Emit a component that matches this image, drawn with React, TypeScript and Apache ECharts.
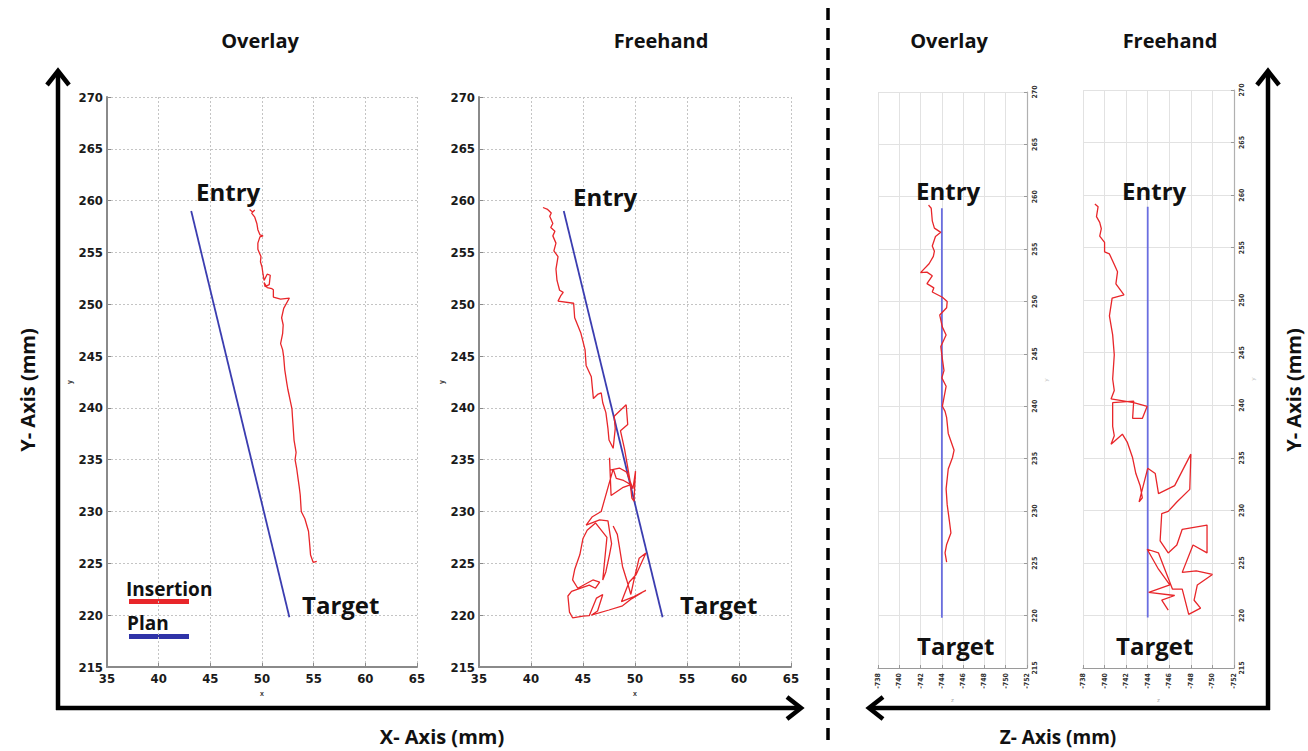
import React, { useEffect, useRef } from "react";
import * as echarts from "echarts";

// ---------- DATA ----------
const panelTitles = ["Overlay", "Freehand", "Overlay", "Freehand"];
const xyTicksX = [35, 40, 45, 50, 55, 60, 65];
const yTicks = [215, 220, 225, 230, 235, 240, 245, 250, 255, 260, 265, 270];
const zTicks = [-738, -740, -742, -744, -746, -748, -750, -752];

// plan trajectory (entry -> target)
const planXY: number[][] = [[43.15, 259.0], [52.65, 219.8]];
const planZY: number[][] = [[-744.0, 258.9], [-744.0, 219.8]];

// insertion trajectories
const overlayXY: number[][] = [
  [48.8, 259.15], [49.1, 258.9], [49.3, 259.1], [49.0, 258.8], [49.3, 258.4], [49.5, 257.8],
  [49.6, 257.2], [49.8, 256.7], [50.1, 256.6], [49.8, 256.5], [49.6, 255.9], [49.6, 255.3],
  [49.9, 254.6], [49.85, 254.1], [50.0, 253.6], [50.1, 252.9], [50.2, 252.3], [50.5, 252.9],
  [50.8, 252.8], [50.7, 251.9], [50.3, 251.7], [50.2, 252.1], [50.5, 251.6], [50.96, 251.5],
  [51.1, 251.4], [51.1, 250.7], [51.8, 250.5], [52.65, 250.6], [52.1, 249.6], [51.9, 248.7],
  [52.05, 248.0], [52.0, 247.2], [51.8, 246.2], [52.0, 245.6], [52.1, 244.9], [52.2, 243.7],
  [52.4, 242.4], [52.5, 241.8], [52.65, 241.1], [52.9, 239.9], [52.95, 239.1], [53.0, 238.4],
  [53.1, 236.9], [53.3, 235.7], [53.2, 235.0], [53.35, 234.2], [53.5, 233.1], [53.6, 232.4],
  [53.7, 231.6], [53.8, 230.0], [54.15, 229.3], [54.5, 228.1], [54.6, 227.0], [54.7, 225.8],
  [54.95, 225.1], [55.3, 225.2]
];

const freehandXY: number[][] = [
  [41.15, 259.34], [41.6, 259.15], [41.95, 258.8], [41.8, 258.5], [42.1, 257.8], [41.9, 257.4],
  [42.3, 257.05], [42.1, 256.6], [42.4, 255.9], [42.2, 255.15], [42.6, 254.6], [42.4, 253.4],
  [42.5, 252.3], [42.75, 251.35], [43.1, 251.15], [42.85, 250.8], [42.6, 250.3], [44.1, 250.1],
  [44.2, 248.7], [44.8, 247.2], [45.2, 245.6], [45.3, 244.1], [45.8, 243.0], [46.0, 240.9],
  [46.4, 241.3], [46.75, 241.45], [46.9, 240.5], [47.2, 239.55], [47.4, 238.0], [47.5, 236.9],
  [47.9, 236.1], [48.1, 238.0], [48.0, 239.2], [49.15, 240.3], [49.3, 238.4], [48.6, 237.8],
  [49.0, 236.0], [49.5, 233.1], [49.7, 231.3], [49.9, 231.0], [50.05, 233.9], [49.8, 232.2],
  [49.2, 233.8], [48.5, 234.2], [47.6, 234.0], [47.55, 235.2], [47.7, 231.55], [48.8, 232.3],
  [49.6, 232.6], [48.9, 233.0], [48.2, 233.2], [47.9, 234.1], [46.75, 230.0], [45.9, 229.5],
  [45.3, 228.7], [46.6, 229.2], [47.4, 229.1], [47.6, 227.8], [47.75, 226.9], [47.55, 225.85],
  [47.2, 224.2], [46.9, 223.4], [47.3, 227.5], [46.2, 228.9], [45.4, 228.2], [45.0, 227.4],
  [44.7, 225.85], [44.2, 224.4], [44.0, 223.4], [44.5, 222.6], [45.95, 223.4], [46.6, 223.2],
  [46.2, 222.6], [45.6, 222.9], [43.9, 222.3], [43.55, 221.85], [43.7, 220.3], [44.0, 219.75],
  [45.0, 219.9], [45.6, 219.95], [46.3, 221.65], [46.9, 222.0], [46.4, 220.4], [45.8, 220.0],
  [47.5, 220.5], [48.8, 220.9], [49.7, 221.6], [51.05, 222.4], [49.9, 221.8], [48.7, 221.3],
  [49.2, 222.6], [49.45, 223.2], [50.1, 223.9], [51.05, 226.0], [50.4, 225.5], [49.9, 223.4],
  [49.6, 222.0], [49.2, 223.4], [48.8, 224.7], [48.5, 226.6], [48.3, 227.8], [47.9, 228.6]
];

const overlayZY: number[][] = [
  [-742.87, 259.06], [-742.75, 259.2], [-743.0, 258.9], [-743.05, 258.3], [-743.1, 257.7],
  [-743.3, 257.0], [-743.9, 256.6], [-743.4, 256.2], [-743.1, 255.3], [-743.3, 254.8],
  [-743.2, 254.3], [-742.8, 253.6], [-742.0, 252.75], [-742.6, 252.8], [-743.1, 252.45],
  [-742.6, 251.7], [-743.25, 251.3], [-743.1, 250.9], [-744.05, 250.4], [-744.5, 250.0],
  [-744.45, 249.4], [-743.8, 248.7], [-744.05, 247.55], [-744.4, 246.8], [-743.9, 245.7],
  [-744.05, 244.5], [-744.2, 243.4], [-744.0, 242.7], [-744.4, 241.9], [-744.05, 240.0],
  [-744.3, 239.5], [-744.45, 238.9], [-744.6, 237.4], [-745.15, 235.8], [-745.0, 235.1],
  [-744.6, 234.0], [-744.4, 232.1], [-744.5, 230.6], [-744.7, 229.1], [-744.85, 227.9],
  [-744.45, 226.8], [-744.3, 226.0], [-744.45, 225.1]
];

const freehandZY: number[][] = [
  [-739.1, 259.16], [-739.4, 258.9], [-739.25, 257.95], [-739.55, 257.4], [-739.7, 256.8],
  [-739.55, 256.1], [-740.0, 255.5], [-740.0, 254.6], [-740.45, 254.4], [-740.9, 253.4],
  [-741.2, 252.7], [-741.05, 251.55], [-741.8, 250.5], [-740.7, 250.2], [-740.45, 248.5],
  [-740.75, 246.7], [-740.9, 244.8], [-740.75, 242.5], [-740.9, 241.4], [-740.6, 240.6],
  [-742.7, 240.25], [-743.95, 239.9], [-743.5, 238.75], [-742.6, 238.75], [-742.7, 240.4],
  [-740.75, 240.25], [-740.75, 238.0], [-740.9, 237.1], [-740.6, 236.3], [-741.65, 237.25],
  [-742.1, 236.5], [-742.6, 235.0], [-742.9, 233.5], [-743.3, 232.35], [-743.5, 231.2],
  [-743.2, 230.8], [-744.0, 234.0], [-744.7, 233.5], [-745.0, 231.6], [-746.5, 232.35],
  [-748.0, 235.35], [-747.9, 232.0], [-746.7, 230.8], [-745.9, 229.9], [-745.3, 229.7],
  [-745.15, 227.1], [-745.9, 225.95], [-746.7, 226.7], [-747.2, 228.2], [-749.5, 228.6],
  [-749.5, 225.95], [-748.2, 226.7], [-747.2, 224.1], [-748.5, 224.25], [-750.0, 223.9],
  [-748.6, 222.9], [-748.3, 221.45], [-748.9, 220.7], [-747.8, 220.1], [-747.2, 222.5],
  [-746.3, 222.5], [-745.0, 225.95], [-743.95, 226.3], [-745.0, 224.4], [-746.05, 222.9],
  [-744.1, 222.2], [-746.5, 221.9], [-745.3, 221.45], [-745.9, 220.5]
];

// ---------- LAYOUT ----------
const grids = [
  { left: 107, top: 97, width: 310, height: 570 },
  { left: 479, top: 97, width: 312, height: 570 },
  { left: 878, top: 92, width: 149, height: 576 },
  { left: 1083, top: 90, width: 151, height: 578 }
];

const boldFont = "'Open Sans', 'Noto Sans', sans-serif";

function txt(text: string, x: number, y: number, size: number, opts: any = {}) {
  return {
    type: "text",
    x,
    y,
    rotation: opts.rotation || 0,
    z: 10,
    style: {
      text,
      x: 0,
      y: 0,
      fill: opts.fill || "#111",
      font: `bold ${size}px ${boldFont}`,
      align: opts.align || "left",
      textAlign: opts.align || "left",
      verticalAlign: "middle",
      textVerticalAlign: "middle"
    }
  };
}

function arrowHead(tx: number, ty: number, dir: "up" | "right" | "left") {
  let pts: number[][];
  if (dir === "up") pts = [[tx - 11, ty + 14], [tx, ty], [tx + 11, ty + 14]];
  else if (dir === "right") pts = [[tx - 14, ty - 11], [tx, ty], [tx - 14, ty + 11]];
  else pts = [[tx + 14, ty - 11], [tx, ty], [tx + 14, ty + 11]];
  return { type: "polyline", shape: { points: pts }, style: { stroke: "#000", lineWidth: 4.5, fill: "none", lineJoin: "miter" } };
}

function lineEl(x1: number, y1: number, x2: number, y2: number, w: number, dash?: number[]) {
  return {
    type: "line",
    shape: { x1, y1, x2, y2 },
    style: { stroke: "#000", lineWidth: w, lineDash: dash || null }
  };
}

export default function App() {
  const ref = useRef<HTMLDivElement>(null);
  useEffect(() => {
    if (!ref.current) return;
    const chart = echarts.init(ref.current, null, { renderer: "svg" });

    const leftTickLabel = {
      fontFamily: "'Liberation Sans Narrow', 'DejaVu Sans Condensed', sans-serif",
      fontWeight: 700,
      fontSize: 13,
      color: "#1a1a1a"
    };
    const rightTickLabel = {
      fontFamily: "'Liberation Sans Narrow', 'DejaVu Sans Condensed', sans-serif",
      fontWeight: 700,
      fontSize: 7,
      color: "#333",
      rotate: 90
    };

    const xAxes: any[] = [];
    const yAxes: any[] = [];
    for (let i = 0; i < 2; i++) {
      xAxes.push({
        type: "value", gridIndex: i, min: 35, max: 65, interval: 5,
        name: "x", nameLocation: "middle", nameGap: 21,
        nameTextStyle: { fontSize: 7, color: "#333", fontWeight: "bold" },
        axisLine: { show: true, onZero: false, lineStyle: { color: "#8a8a8a", width: 2 } },
        axisTick: { show: true, inside: true, length: 4, lineStyle: { color: "#8a8a8a" } },
        axisLabel: { ...leftTickLabel, margin: 5 },
        splitLine: { show: true, lineStyle: { color: "#c4c4c4", type: [2, 2], width: 1 } }
      });
      yAxes.push({
        type: "value", gridIndex: i, min: 215, max: 270, interval: 5,
        name: "y", nameLocation: "middle", nameGap: 34, nameRotate: 90,
        nameTextStyle: { fontSize: 7, color: "#333", fontWeight: "bold" },
        axisLine: { show: true, onZero: false, lineStyle: { color: "#8a8a8a", width: 2 } },
        axisTick: { show: true, inside: true, length: 4, lineStyle: { color: "#8a8a8a" } },
        axisLabel: { ...leftTickLabel, margin: 4 },
        splitLine: { show: true, lineStyle: { color: "#c4c4c4", type: [2, 2], width: 1 } }
      });
    }
    for (let i = 2; i < 4; i++) {
      xAxes.push({
        type: "value", gridIndex: i, min: -752, max: -738, interval: 2, inverse: true,
        name: "z", nameLocation: "middle", nameGap: 22,
        nameTextStyle: { fontSize: 6, color: "#aaa" },
        axisLine: { show: true, onZero: false, lineStyle: { color: "#9a9a9a", width: 1.2 } },
        axisTick: { show: true, inside: true, length: 3, lineStyle: { color: "#9a9a9a" } },
        axisLabel: { ...rightTickLabel, margin: 5 },
        splitLine: { show: true, lineStyle: { color: "#e2e2e2", width: 1 } }
      });
      yAxes.push({
        type: "value", gridIndex: i, min: 215, max: 270, interval: 5, position: "right",
        name: "y", nameLocation: "middle", nameGap: 16, nameRotate: 90,
        nameTextStyle: { fontSize: 6, color: "#bbb" },
        axisLine: { show: true, onZero: false, lineStyle: { color: "#b0b0b0", width: 1.2 } },
        axisTick: { show: true, inside: true, length: 3, lineStyle: { color: "#9a9a9a" } },
        axisLabel: { ...rightTickLabel, margin: 4 },
        splitLine: { show: true, lineStyle: { color: "#e2e2e2", width: 1 } }
      });
    }

    const redLine = (name: string, data: number[][], idx: number) => ({
      name, type: "line", xAxisIndex: idx, yAxisIndex: idx, data,
      showSymbol: false, symbol: "none", smooth: false,
      lineStyle: { color: "#e8262a", width: 1.3 }, z: 3
    });
    const blueLine = (data: number[][], idx: number, color: string) => ({
      name: "Plan", type: "line", xAxisIndex: idx, yAxisIndex: idx, data,
      showSymbol: false, symbol: "none",
      lineStyle: { color, width: 1.8 }, z: 2
    });

    const series = [
      blueLine(planXY, 0, "#3b3db0"),
      redLine("Insertion", overlayXY, 0),
      blueLine(planXY, 1, "#3b3db0"),
      redLine("Insertion", freehandXY, 1),
      blueLine(planZY, 2, "#6a6ee0"),
      redLine("Insertion", overlayZY, 2),
      blueLine(planZY, 3, "#6a6ee0"),
      redLine("Insertion", freehandZY, 3)
    ];

    const graphic: any[] = [
      // panel titles
      txt(panelTitles[0], 260, 40, 20, { align: "center" }),
      txt(panelTitles[1], 661, 40, 20, { align: "center" }),
      txt(panelTitles[2], 949, 40, 20, { align: "center" }),
      txt(panelTitles[3], 1170, 40, 20, { align: "center" }),
      // Entry / Target labels
      txt("Entry", 196, 191, 24),
      txt("Entry", 573, 196, 24),
      txt("Entry", 916, 190, 24),
      txt("Entry", 1122, 190, 24),
      txt("Target", 302, 604, 24),
      txt("Target", 680, 604, 24),
      txt("Target", 917, 645, 24),
      txt("Target", 1116, 645, 24),
      // legend
      txt("Insertion", 126, 589, 19),
      { type: "rect", shape: { x: 129, y: 599, width: 60, height: 5 }, style: { fill: "#e8262a" } },
      txt("Plan", 127, 623, 19),
      { type: "rect", shape: { x: 129, y: 634, width: 60, height: 5 }, style: { fill: "#2f33a8" } },
      // big axis labels
      txt("Y- Axis (mm)", 27, 390, 20, { align: "center", rotation: Math.PI / 2 }),
      txt("Y- Axis (mm)", 1293, 390, 20, { align: "center", rotation: Math.PI / 2 }),
      txt("X- Axis (mm)", 442, 736, 20, { align: "center" }),
      txt("Z- Axis (mm)", 1058, 737, 19, { align: "center" }),
      // left arrows
      lineEl(58, 710, 58, 74, 4.5),
      arrowHead(58, 71, "up"),
      lineEl(56, 708, 798, 708, 4.5),
      arrowHead(801, 708, "right"),
      // right arrows
      lineEl(1270, 708, 872, 708, 4.5),
      arrowHead(869, 708, "left"),
      lineEl(1268, 710, 1268, 74, 4.5),
      arrowHead(1268, 71, "up"),
      // divider
      lineEl(828, 8, 828, 742, 3.5, [12, 8])
    ];

    chart.setOption({
      animation: false,
      backgroundColor: "#ffffff",
      grid: grids.map((g) => ({ ...g, containLabel: false })),
      xAxis: xAxes,
      yAxis: yAxes,
      series,
      graphic
    });
    return () => chart.dispose();
  }, []);
  return (
    <div
      ref={ref}
      style={{ position: "absolute", left: 0, top: 0, width: 1308, height: 751, background: "#fff" }}
    />
  );
}
